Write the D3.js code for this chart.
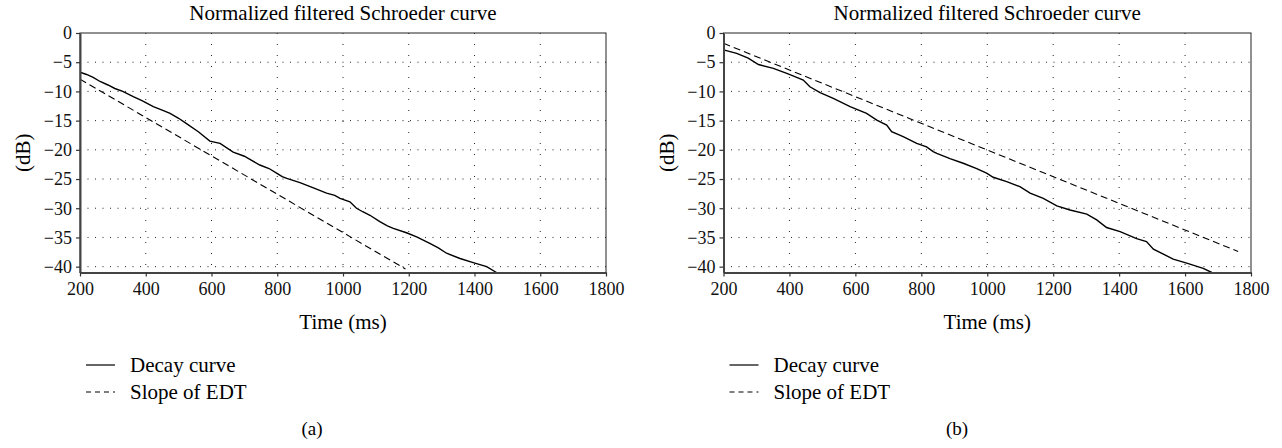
<!DOCTYPE html>
<html>
<head>
<meta charset="utf-8">
<script src="https://cdn.jsdelivr.net/npm/d3@7"></script>
<style>
  body { margin: 0; background: #fff; }
</style>
</head>
<body>
<svg id="chart" width="1282" height="448"></svg>
<script>
// tick values
const timeTicks = [200, 400, 600, 800, 1000, 1200, 1400, 1600, 1800];
const dbTicks = [0, -5, -10, -15, -20, -25, -30, -35, -40];

// (a) decay curve
const decayA_t = [200, 220, 240, 261, 285, 306, 330, 362, 390, 423, 450, 474, 500, 524, 560, 595, 626, 666, 700, 722,
  747, 775, 798, 815, 829, 869, 910, 950, 975, 991, 1021, 1041, 1060, 1082, 1112, 1135, 1153, 1193, 1224, 1264,
  1290, 1315, 1356, 1396, 1437, 1467];
const decayA_db = [-6.7, -7.1, -7.6, -8.3, -8.9, -9.5, -10.0, -10.9, -11.6, -12.6, -13.2, -13.75, -14.6, -15.5, -16.9, -18.5, -18.9, -20.4, -21.1, -21.8,
  -22.6, -23.2, -24.0, -24.6, -24.9, -25.6, -26.5, -27.4, -27.8, -28.3, -28.9, -30.0, -30.6, -31.2, -32.3, -33.0, -33.45, -34.2, -34.9, -36.0,
  -36.8, -37.7, -38.6, -39.3, -40.0, -41.0];
// (a) slope of EDT
const edtA_t = [200, 1190];
const edtA_db = [-7.9, -40.4];

// (b) decay curve
const decayB_t = [200, 240, 275, 306, 351, 392, 422, 442, 462, 493, 533, 584, 634, 665, 695, 710, 745, 786, 816, 836,
  847, 887, 927, 968, 998, 1018, 1059, 1099, 1130, 1170, 1211, 1251, 1302, 1332, 1362, 1403, 1453, 1483, 1504, 1564,
  1605, 1655, 1681];
const decayB_db = [-2.9, -3.5, -4.3, -5.4, -6.05, -6.9, -7.6, -8.05, -9.2, -10.2, -11.2, -12.6, -13.75, -14.9, -15.75, -16.9, -17.75, -18.9, -19.5, -20.3,
  -20.6, -21.5, -22.3, -23.2, -24.0, -24.7, -25.45, -26.3, -27.4, -28.3, -29.6, -30.3, -31.0, -32.0, -33.3, -34.0, -35.2, -35.7, -37.0, -38.7,
  -39.4, -40.3, -41.0];
// (b) slope of EDT
const edtB_t = [200, 1761];
const edtB_db = [-1.77, -37.4];

const titleText = 'Normalized filtered Schroeder curve';
const legendLabels = ['Decay curve', 'Slope of EDT'];
const serif = '"Liberation Serif"';

const svg = d3.select('#chart');

drawPanel({ left: 80, top: 33, width: 526, height: 239.5, caption: '(a)', captionX: 312, id: 'a',
  decayT: decayA_t, decayDb: decayA_db, edtT: edtA_t, edtDb: edtA_db });
drawPanel({ left: 723.5, top: 33, width: 527.5, height: 239.5, caption: '(b)', captionX: 957, id: 'b',
  decayT: decayB_t, decayDb: decayB_db, edtT: edtB_t, edtDb: edtB_db });

function drawPanel(p) {
  const x = d3.scaleLinear().domain([200, 1800]).range([0, p.width]);
  const y = d3.scaleLinear().domain([-41, 0]).range([p.height, 0]);

  const g = svg.append('g').attr('transform', `translate(${p.left},${p.top})`);

  // dotted grid
  g.append('g').selectAll('line').data(dbTicks.filter(d => d !== 0)).enter().append('line')
    .attr('x1', 0).attr('x2', p.width)
    .attr('y1', d => y(d)).attr('y2', d => y(d))
    .attr('stroke', '#222').attr('stroke-width', 1).attr('stroke-dasharray', '1,6.5');
  g.append('g').selectAll('line').data(timeTicks.slice(1, -1)).enter().append('line')
    .attr('x1', d => x(d)).attr('x2', d => x(d))
    .attr('y1', 0).attr('y2', p.height)
    .attr('stroke', '#222').attr('stroke-width', 1).attr('stroke-dasharray', '1,10');

  // frame
  g.append('rect').attr('x', 0).attr('y', 0).attr('width', p.width).attr('height', p.height)
    .attr('fill', 'none').attr('stroke', '#222').attr('stroke-width', 1);

  g.append('clipPath').attr('id', 'clip-' + p.id)
    .append('rect').attr('width', p.width).attr('height', p.height);

  const line = d3.line().x(d => x(d[0])).y(d => y(d[1]));
  const decay = p.decayT.map((t, i) => [t, p.decayDb[i]]);
  const edt = p.edtT.map((t, i) => [t, p.edtDb[i]]);

  const plot = g.append('g').attr('clip-path', `url(#clip-${p.id})`);
  plot.append('path').datum(edt).attr('d', line)
    .attr('fill', 'none').attr('stroke', '#000').attr('stroke-width', 1.1).attr('stroke-dasharray', '7,4');
  plot.append('path').datum(decay).attr('d', line)
    .attr('fill', 'none').attr('stroke', '#000').attr('stroke-width', 1.4);

  // axes
  const xAxis = d3.axisBottom(x).tickValues(timeTicks).tickSize(4).tickSizeOuter(0).tickPadding(4).tickFormat(d3.format('d'));
  const gx = g.append('g').attr('transform', `translate(0,${p.height})`).call(xAxis);
  const yAxis = d3.axisLeft(y).tickValues(dbTicks).tickSize(4).tickSizeOuter(0).tickPadding(4).tickFormat(d3.format('d'));
  const gy = g.append('g').call(yAxis);
  [gx, gy].forEach(a => {
    a.select('.domain').attr('stroke', '#444').attr('stroke-width', 2);
    a.selectAll('.tick line').attr('stroke', '#333').attr('stroke-width', 1.2);
    a.selectAll('text').attr('fill', '#111')
      .style('font-family', serif).style('font-size', '18px');
  });
  gx.selectAll('text').attr('dy', '0.8em');

  // titles
  g.append('text').attr('x', p.width / 2).attr('y', -13).attr('text-anchor', 'middle')
    .style('font-family', serif).style('font-size', '21px').text(titleText);
  g.append('text').attr('x', p.width / 2).attr('y', p.height + 56).attr('text-anchor', 'middle')
    .style('font-family', serif).style('font-size', '21px').text('Time (ms)');
  g.append('text').attr('transform', `translate(-50,${p.height / 2}) rotate(-90)`).attr('text-anchor', 'middle')
    .style('font-family', serif).style('font-size', '21px').text('(dB)');

  // legend
  const lg = svg.append('g').attr('transform', `translate(${p.left + 6},0)`);
  legendLabels.forEach((label, i) => {
    const ly = 365 + i * 27;
    lg.append('line').attr('x1', 0).attr('x2', 29).attr('y1', ly).attr('y2', ly)
      .attr('stroke', '#000').attr('stroke-width', 1.2).attr('stroke-dasharray', i === 1 ? '5,4' : null);
    lg.append('text').attr('x', 44).attr('y', ly + 7)
      .style('font-family', serif).style('font-size', '21px').text(label);
  });

  svg.append('text').attr('x', p.captionX).attr('y', 435).attr('text-anchor', 'middle')
    .style('font-family', serif).style('font-size', '19px').text(p.caption);
}
</script>
</body>
</html>
